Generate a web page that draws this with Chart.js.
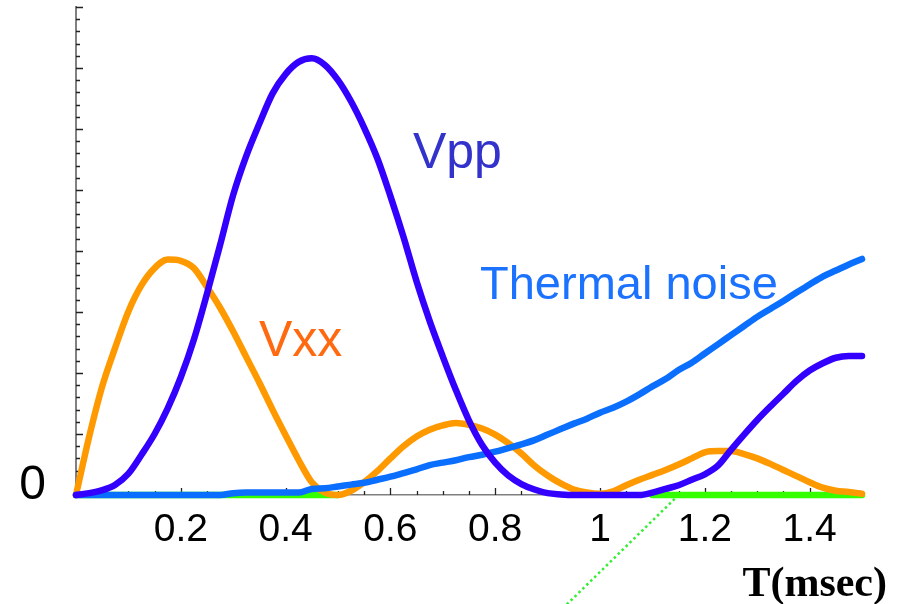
<!DOCTYPE html>
<html>
<head>
<meta charset="utf-8">
<title>Vpp / Vxx / Thermal noise</title>
<script src="https://cdn.jsdelivr.net/npm/chart.js@4.4.1/dist/chart.umd.min.js"></script>
<style>
    body { margin: 0; background: #fff; }
    #chartContainer0 { width: 906px; height: 604px; }
</style>
</head>
<body>
<div id="chartContainer0"><canvas id="myChart" width="906" height="604"></canvas></div>
<script>
// Time axis (msec), one sample every 0.025
const T = [0, 0.025, 0.05, 0.075, 0.1, 0.125, 0.15, 0.175, 0.2, 0.225, 0.25, 0.275, 0.3, 0.325, 0.35, 0.375,
    0.4, 0.425, 0.45, 0.475, 0.5, 0.525, 0.55, 0.575, 0.6, 0.625, 0.65, 0.675, 0.7, 0.725, 0.75, 0.775,
    0.8, 0.825, 0.85, 0.875, 0.9, 0.925, 0.95, 0.975, 1.0, 1.025, 1.05, 1.075, 1.1, 1.125, 1.15, 1.175,
    1.2, 1.225, 1.25, 1.275, 1.3, 1.325, 1.35, 1.375, 1.4, 1.425, 1.45, 1.475, 1.5];

const vpp = [0, 0.03, 0.08, 0.17, 0.35, 0.66, 1.0, 1.42, 1.93, 2.55, 3.3, 4.1, 4.92, 5.56, 6.09, 6.58,
    6.9, 7.1, 7.16, 7.05, 6.8, 6.45, 6.02, 5.52, 4.9, 4.23, 3.5, 2.85, 2.27, 1.72, 1.22, 0.82,
    0.53, 0.32, 0.18, 0.09, 0.03, 0.01, 0, 0, 0, 0, 0, 0, 0.04, 0.1, 0.16, 0.25,
    0.34, 0.48, 0.74, 0.99, 1.23, 1.45, 1.66, 1.87, 2.04, 2.16, 2.25, 2.28, 2.28];

const vxx = [0, 0.95, 1.78, 2.42, 3.01, 3.44, 3.72, 3.86, 3.84, 3.72, 3.41, 3.07, 2.68, 2.26, 1.84, 1.40,
    0.98, 0.57, 0.21, 0.04, 0, 0.07, 0.21, 0.39, 0.6, 0.8, 0.96, 1.07, 1.14, 1.18, 1.15, 1.09,
    0.99, 0.85, 0.68, 0.48, 0.32, 0.19, 0.09, 0.04, 0.02, 0.06, 0.16, 0.25, 0.33, 0.41, 0.5, 0.6,
    0.7, 0.72, 0.72, 0.67, 0.6, 0.51, 0.41, 0.31, 0.21, 0.12, 0.07, 0.05, 0.02];

const thermal = [0, 0, 0, 0, 0, 0, 0, 0, 0, 0, 0, 0, 0.03, 0.04, 0.04, 0.04,
    0.04, 0.04, 0.1, 0.11, 0.14, 0.17, 0.2, 0.25, 0.3, 0.36, 0.42, 0.49, 0.53, 0.57, 0.62, 0.66,
    0.71, 0.77, 0.83, 0.9, 0.99, 1.08, 1.17, 1.25, 1.35, 1.43, 1.53, 1.65, 1.78, 1.9, 2.05, 2.17,
    2.32, 2.47, 2.62, 2.77, 2.92, 3.05, 3.18, 3.32, 3.45, 3.58, 3.68, 3.78, 3.87];

// green baseline, only shown where it is visible in the figure
const green = [0, 0, 0, 0, 0, 0, 0, 0, 0, 0, 0, 0, 0, 0, 0, 0,
    0, 0, 0, 0, 0, null, null, null, null, null, null, null, null, null, null, null,
    null, null, null, null, null, null, null, null, null, null, null, null, 0, 0, 0, 0,
    0, 0, 0, 0, 0, 0, 0, 0, 0, 0, 0, 0, 0];

// dotted green line running off the bottom of the plot
const dottedT = [1.15, 0.93];
const dottedV = [0, -1.85];

// x tick labels every 0.2, ticks every 0.05
const xLabelStep = 0.2;
const xTickStep = 0.05;
const yTickStep = 0.2;

function pts(xs, ys) {
    let out = [];
    for (let i = 0; i < xs.length; i++) {
        out.push({x: xs[i], y: ys[i]});
    }
    return out;
}

function isMultiple(v, step) {
    return Math.abs(v / step - Math.round(v / step)) < 1e-6;
}

// inner tick marks + text labels
const decorations = {
    id: 'decorations',
    beforeDatasetsDraw(chart) {
        // tick marks go under the curves
        const ctx = chart.ctx;
        const xs = chart.scales.x;
        const ys = chart.scales.y;
        const area = chart.chartArea;

        ctx.save();
        ctx.strokeStyle = '#222';
        ctx.lineWidth = 1.3;
        ctx.beginPath();
        ys.ticks.forEach(function (t) {
            const py = Math.round(ys.getPixelForValue(t.value)) + 0.5;
            const len = isMultiple(t.value, 1) ? 7 : 4;
            ctx.moveTo(area.left, py);
            ctx.lineTo(area.left + len, py);
        });
        xs.ticks.forEach(function (t) {
            if (t.value <= 0) return;
            const px = Math.round(xs.getPixelForValue(t.value)) + 0.5;
            const len = isMultiple(t.value, xLabelStep) ? 7 : 4;
            ctx.moveTo(px, area.bottom);
            ctx.lineTo(px, area.bottom - len);
        });
        ctx.stroke();
        ctx.restore();
    },
    afterDraw(chart) {
        const ctx = chart.ctx;
        const xs = chart.scales.x;
        const ys = chart.scales.y;
        const area = chart.chartArea;

        ctx.save();
        ctx.textBaseline = 'alphabetic';
        ctx.textAlign = 'right';
        ctx.fillStyle = '#000';
        ctx.font = '48px "Liberation Sans", Arial, sans-serif';
        ctx.fillText('0', area.left - 30, ys.getPixelForValue(0) + 4);

        ctx.textAlign = 'left';
        ctx.font = '50px "Liberation Sans", Arial, sans-serif';
        ctx.fillStyle = '#3333cc';
        ctx.fillText('Vpp', xs.getPixelForValue(0.643), ys.getPixelForValue(5.36));
        ctx.fillStyle = '#ff6a10';
        ctx.fillText('Vxx', xs.getPixelForValue(0.349), ys.getPixelForValue(2.28));
        ctx.font = '47px "Liberation Sans", Arial, sans-serif';
        ctx.fillStyle = '#1a72ff';
        ctx.fillText('Thermal noise', xs.getPixelForValue(0.771), ys.getPixelForValue(3.21));

        ctx.textAlign = 'right';
        ctx.fillStyle = '#000';
        ctx.font = 'bold 42px "Liberation Serif", "Times New Roman", serif';
        ctx.fillText('T(msec)', 887, 596);
        ctx.restore();
    }
};

function makeChart() {
    const ctx = document.getElementById('myChart');
    const lineStyle = {
        fill: false,
        pointRadius: 0,
        borderWidth: 6.5,
        borderCapStyle: 'round',
        borderJoinStyle: 'round',
        cubicInterpolationMode: 'monotone',
        spanGaps: false,
        clip: false
    };

    const data = {
        datasets: [
            Object.assign({label: 'Vpp', data: pts(T, vpp), borderColor: '#3300ff'}, lineStyle),
            Object.assign({label: 'Thermal noise', data: pts(T, thermal), borderColor: '#0a6eff'}, lineStyle),
            Object.assign({label: 'Vxx', data: pts(T, vxx), borderColor: '#ff9900'}, lineStyle),
            Object.assign({label: 'green', data: pts(T, green), borderColor: '#33ff00'}, lineStyle),
            {
                label: 'green dotted',
                data: pts(dottedT, dottedV),
                borderColor: '#33ee33',
                borderWidth: 2.5,
                borderDash: [2.5, 3],
                pointRadius: 0,
                clip: false
            }
        ]
    };

    const config = {
        type: 'line',
        data: data,
        options: {
            responsive: false,
            animation: false,
            devicePixelRatio: 1,
            layout: { padding: { left: 0, top: 7, right: 44, bottom: 0 } },
            plugins: {
                legend: { display: false },
                tooltip: { enabled: false }
            },
            scales: {
                x: {
                    type: 'linear',
                    min: 0,
                    max: 1.5,
                    grid: { display: false, drawTicks: false },
                    border: { display: true, color: '#808080', width: 1.5 },
                    ticks: {
                        stepSize: xTickStep,
                        autoSkip: false,
                        maxRotation: 0,
                        padding: 12,
                        color: '#000',
                        font: { family: '"Liberation Sans", Arial, sans-serif', size: 39 },
                        callback: function (value) {
                            if (value > 0 && value < 1.5 && isMultiple(value, xLabelStep)) {
                                return String(Math.round(value * 10) / 10);
                            }
                            return '';
                        }
                    },
                    afterFit: function (scale) { scale.height = 109; }
                },
                y: {
                    type: 'linear',
                    min: 0,
                    max: 8,
                    grid: { display: false, drawTicks: false },
                    border: { display: true, color: '#808080', width: 2 },
                    ticks: { display: false, stepSize: yTickStep, autoSkip: false },
                    afterFit: function (scale) { scale.width = 76; }
                }
            }
        },
        plugins: [decorations]
    };

    const chart = new Chart(ctx, config);
}

makeChart();
</script>
</body>
</html>
